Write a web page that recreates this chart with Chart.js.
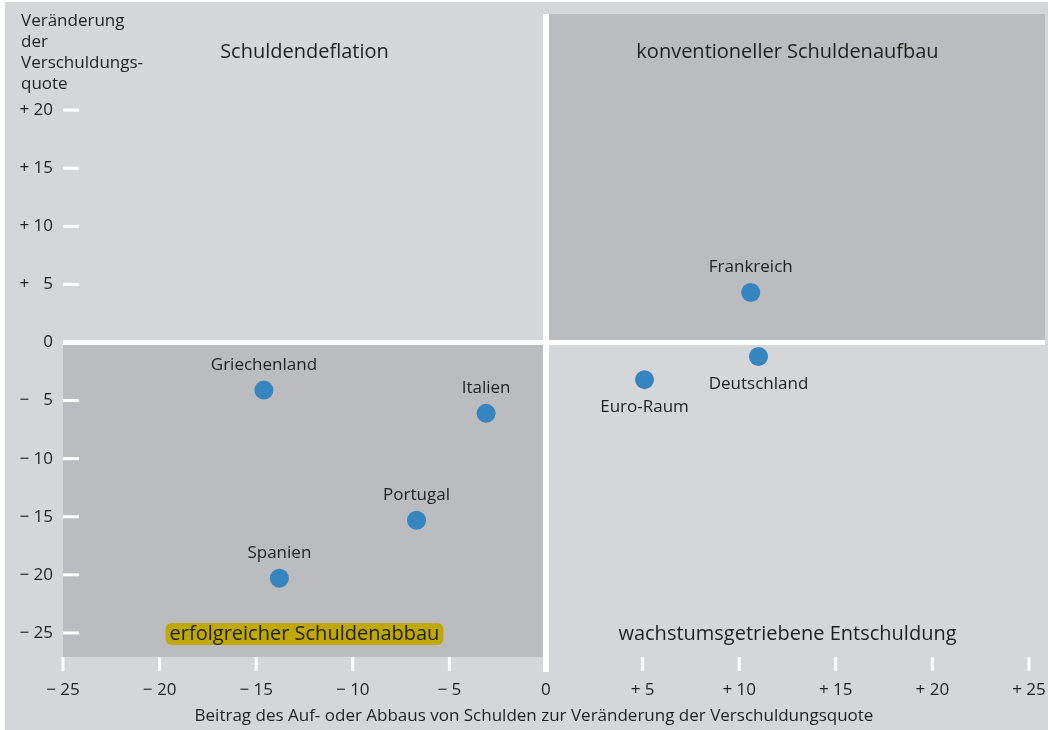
<!DOCTYPE html>
<html>
<head>
<meta charset="utf-8">
<script src="https://cdn.jsdelivr.net/npm/chart.js@4.4.1/dist/chart.umd.min.js"></script>
<style>
    html, body { margin: 0; padding: 0; background: #fff; }
</style>
</head>
<body>
<canvas id="debt-chart" width="1048" height="730"></canvas>
<script>
// data
const countries = ['Frankreich', 'Deutschland', 'Euro-Raum', 'Griechenland', 'Italien', 'Portugal', 'Spanien'];
const debtContribution = [10.6, 11.0, 5.1, -14.6, -3.1, -6.7, -13.8];
const ratioChange = [4.3, -1.2, -3.2, -4.1, -6.1, -15.3, -20.3];
const labelSide = ['above', 'below', 'below', 'above', 'above', 'above', 'above'];

const xTickValues = [-25, -20, -15, -10, -5, 0, 5, 10, 15, 20, 25];
const xTickLabels = ['\u2212 25', '\u2212 20', '\u2212 15', '\u2212 10', '\u2212 5', '0', '+ 5', '+ 10', '+ 15', '+ 20', '+ 25'];
const yTickValues = [-25, -20, -15, -10, -5, 0, 5, 10, 15, 20];
const yTickLabels = ['\u2212 25', '\u2212 20', '\u2212 15', '\u2212 10', '\u2212 \u20075', '0', '+ \u20075', '+ 10', '+ 15', '+ 20'];

const quadrantNames = ['Schuldendeflation', 'konventioneller Schuldenaufbau', 'erfolgreicher Schuldenabbau', 'wachstumsgetriebene Entschuldung'];
const yTitleLines = ['Veränderung', 'der', 'Verschuldungs-', 'quote'];
const xTitle = 'Beitrag des Auf- oder Abbaus von Schulden zur Veränderung der Verschuldungsquote';

const FONT = "'Open Sans', 'Noto Sans', sans-serif";
const TEXT = '#1f1f1f';
const LIGHT = '#d5d6d8';
const DARK = '#bbbcbf';

const backgroundPlugin = {
    id: 'quadrantBackground',
    beforeDraw(chart) {
        const { ctx, chartArea: a, scales: { x, y } } = chart;
        const x0 = x.getPixelForValue(0);
        const y0 = y.getPixelForValue(0);
        ctx.save();
        ctx.fillStyle = '#fff';
        ctx.fillRect(0, 0, chart.width, chart.height);
        ctx.fillStyle = LIGHT;
        ctx.fillRect(5, 2, chart.width - 5, chart.height - 2);
        ctx.fillStyle = DARK;
        ctx.fillRect(x0, a.top, a.right - x0, y0 - a.top);
        ctx.fillRect(a.left, y0, x0 - a.left, a.bottom - y0);
        ctx.restore();
    },
    beforeDatasetsDraw(chart) {
        const { ctx, chartArea: a, scales: { x, y } } = chart;
        const x0 = x.getPixelForValue(0);
        const y0 = y.getPixelForValue(0);
        ctx.save();
        ctx.fillStyle = '#fff';
        // zero lines
        ctx.fillRect(x0 - 3, a.top, 6, a.bottom + 15 - a.top);
        ctx.fillRect(a.left, y0 - 2.5, a.right - a.left, 5);
        // tick marks
        xTickValues.forEach(v => {
            if (v === 0) return;
            const px = x.getPixelForValue(v);
            ctx.fillRect(px - 1.5, a.bottom, 3, 14);
        });
        yTickValues.forEach(v => {
            if (v === 0) return;
            const py = y.getPixelForValue(v);
            ctx.fillRect(a.left, py - 1.5, 16, 3);
        });

        // quadrant names
        ctx.font = `20px ${FONT}`;
        ctx.textAlign = 'center';
        ctx.textBaseline = 'middle';
        const xs = [x.getPixelForValue(-12.5), x.getPixelForValue(12.5)];
        const ys = [y.getPixelForValue(25), y.getPixelForValue(-25.1)];
        quadrantNames.forEach((name, i) => {
            const px = xs[i % 2];
            const py = ys[Math.floor(i / 2)];
            if (i === 2) {
                const w = ctx.measureText(name).width + 8;
                ctx.fillStyle = '#bfa900';
                ctx.beginPath();
                ctx.roundRect(px - w / 2, py - 11, w, 22, 6);
                ctx.fill();
            }
            ctx.fillStyle = TEXT;
            ctx.fillText(name, px, py);
        });

        // axis titles
        ctx.font = `17px ${FONT}`;
        ctx.textAlign = 'left';
        yTitleLines.forEach((line, i) => ctx.fillText(line, 21, 21 + i * 21));
        ctx.textAlign = 'center';
        ctx.fillText(xTitle, 534, 716);
        ctx.restore();
    },
    afterDatasetsDraw(chart) {
        const { ctx } = chart;
        const meta = chart.getDatasetMeta(0);
        ctx.save();
        ctx.font = `17px ${FONT}`;
        ctx.fillStyle = TEXT;
        ctx.textAlign = 'center';
        ctx.textBaseline = 'middle';
        meta.data.forEach((pt, i) => {
            const dy = labelSide[i] === 'above' ? -25 : 28;
            ctx.fillText(countries[i], pt.x, pt.y + dy);
        });
        ctx.restore();
    }
};

new Chart(document.getElementById('debt-chart'), {
    type: 'scatter',
    data: {
        datasets: [{
            data: countries.map((c, i) => ({ x: debtContribution[i], y: ratioChange[i] })),
            backgroundColor: '#3585c0',
            borderWidth: 0,
            pointRadius: 9.5,
            pointHoverRadius: 9.5
        }]
    },
    options: {
        responsive: false,
        animation: false,
        layout: { autoPadding: false, padding: { top: 14, right: 3, left: 0, bottom: 0 } },
        plugins: {
            legend: { display: false },
            tooltip: { enabled: false }
        },
        scales: {
            x: {
                type: 'linear',
                min: -25,
                max: 25.83,
                grid: { display: false, drawTicks: false },
                border: { display: false },
                afterFit: scale => {
                    scale.height = 73;
                    scale.paddingLeft = 0;
                    scale.paddingRight = 0;
                },
                afterBuildTicks: axis => { axis.ticks = xTickValues.map(v => ({ value: v })); },
                ticks: {
                    autoSkip: false,
                    maxRotation: 0,
                    padding: 23,
                    color: TEXT,
                    font: { family: FONT, size: 17 },
                    callback: v => xTickLabels[xTickValues.indexOf(v)]
                }
            },
            y: {
                type: 'linear',
                min: -27.07,
                max: 28.27,
                grid: { display: false, drawTicks: false },
                border: { display: false },
                afterFit: scale => {
                    scale.width = 63;
                    scale.paddingTop = 0;
                    scale.paddingBottom = 0;
                },
                afterBuildTicks: axis => { axis.ticks = yTickValues.map(v => ({ value: v })); },
                ticks: {
                    padding: 10,
                    color: TEXT,
                    font: { family: FONT, size: 17 },
                    callback: v => yTickLabels[yTickValues.indexOf(v)]
                }
            }
        }
    },
    plugins: [backgroundPlugin]
});
</script>
</body>
</html>
